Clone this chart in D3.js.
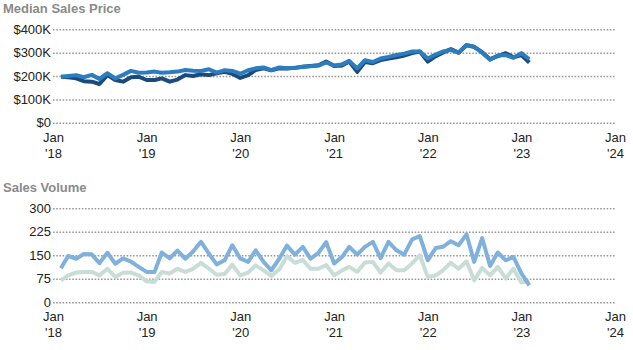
<!DOCTYPE html>
<html><head><meta charset="utf-8">
<script src="https://cdn.jsdelivr.net/npm/d3@7"></script>
<style>
body{margin:0;background:#fff;}
svg{display:block;}
</style></head>
<body><svg id="c" width="633" height="350"></svg>
<script>
// ---- data (monthly, Feb 2018 – Feb 2023) ----
const startYear = 2018, startMonth = 1; // Feb 2018
const priceSeriesA = [197,195,190,178,176,166,204,183,176,195,197,183,183,190,176,185,204,200,208,204,212,218,210,192,204,226,233,225,233,232,235,240,243,246,262,243,245,262,218,260,255,268,275,280,288,298,305,262,285,300,315,300,332,325,302,272,285,298,280,290,258];
const priceSeriesB = [197,200,204,195,205,188,212,190,205,222,214,215,219,214,216,219,226,223,222,229,215,225,222,210,225,233,237,225,237,233,235,240,242,245,258,245,250,265,233,268,260,275,282,290,296,305,305,275,292,305,312,300,333,325,300,270,288,290,278,298,272];
const volumeSeriesA = [109,148,139,154,153,125,158,123,140,130,113,97,97,159,140,165,139,162,193,155,121,134,182,140,129,166,129,102,139,181,152,177,139,158,192,124,145,177,152,177,193,141,193,166,152,201,211,134,173,177,195,182,217,129,205,116,159,134,145,92,54];
const volumeSeriesB = [70,86,95,97,97,86,107,81,94,95,86,67,65,97,92,107,97,107,126,107,88,90,120,86,95,118,102,84,105,147,126,135,107,107,119,86,102,113,97,127,129,95,124,102,102,124,150,81,86,102,126,107,131,70,110,86,113,76,107,63,67];
const priceTicks = [0,100,200,300,400];
const priceTickLabels = ["$0","$100K","$200K","$300K","$400K"];
const volumeTicks = [0,75,150,225,300];
const yearTicks = [2018,2019,2020,2021,2022,2023,2024];
const titles = ["Median Sales Price","Sales Volume"];
const colors = {priceA:"#1b4b7d", priceB:"#2c7dc0", volA:"#7fb1dc", volB:"#c9ddd7"};

const FONT = "Liberation Sans, Arial, sans-serif";
const dates = priceSeriesA.map((_, i) => new Date(startYear, startMonth + i, 1));

const svg = d3.select("#c");
const x = d3.scaleTime().domain([new Date(2018,0,1), new Date(2024,0,1)]).range([53, 615]);

function panel(cfg){
  const g = svg.append("g");
  const y = d3.scaleLinear().domain(cfg.domain).range(cfg.range);
  g.append("text").attr("x",3).attr("y",cfg.titleY).attr("font-family",FONT)
    .attr("font-size",13).attr("font-weight","bold").attr("fill","#8a8a8a")
    .text(cfg.title);
  const ya = d3.axisLeft(y).tickValues(cfg.ticks).tickSize(-(615-53)).tickPadding(3)
    .tickFormat((d,i)=>cfg.labels[i]);
  const yg = g.append("g").attr("transform","translate(53,0)").call(ya);
  yg.select(".domain").remove();
  yg.selectAll(".tick line").attr("stroke","#9a9a9a").attr("stroke-width",1.6)
    .attr("stroke-dasharray","1.6,1.6");
  yg.selectAll(".tick text").attr("font-size",13).attr("fill","#222")
    .attr("font-family",FONT).attr("x",-2);
  const xa = d3.axisBottom(x).tickValues(yearTicks.map(yr=>new Date(yr,0,1))).tickSize(0).tickFormat("");
  const xg = g.append("g").attr("transform",`translate(0,${cfg.axisY})`).call(xa);
  xg.select(".domain").remove();
  xg.selectAll(".tick").each(function(d){
    const t = d3.select(this).append("text").attr("fill","#222").attr("font-size",13)
      .attr("text-anchor","middle").attr("font-family",FONT);
    t.append("tspan").attr("x",0).attr("y",cfg.lab1).text("Jan");
    t.append("tspan").attr("x",0).attr("y",cfg.lab2).text("'" + String(d.getFullYear()).slice(2));
  });
  const line = d3.line().x((d,i)=>x(dates[i])).y(d=>y(d));
  cfg.series.forEach(s=>{
    g.append("path").datum(s.values).attr("d",line).attr("fill","none")
      .attr("stroke",s.color).attr("stroke-width",4).attr("stroke-linejoin","round").attr("stroke-linecap","butt");
  });
}

panel({title:titles[0], titleY:13, domain:[0,400], range:[122.8,29.3], ticks:priceTicks, labels:priceTickLabels,
  axisY:122.8, lab1:19, lab2:35,
  series:[{values:priceSeriesA,color:colors.priceA},{values:priceSeriesB,color:colors.priceB}]});
panel({title:titles[1], titleY:192, domain:[0,300], range:[302.3,208.3], ticks:volumeTicks, labels:volumeTicks.map(String),
  axisY:302.3, lab1:19, lab2:35,
  series:[{values:volumeSeriesB,color:colors.volB},{values:volumeSeriesA,color:colors.volA}]});
</script></body></html>
